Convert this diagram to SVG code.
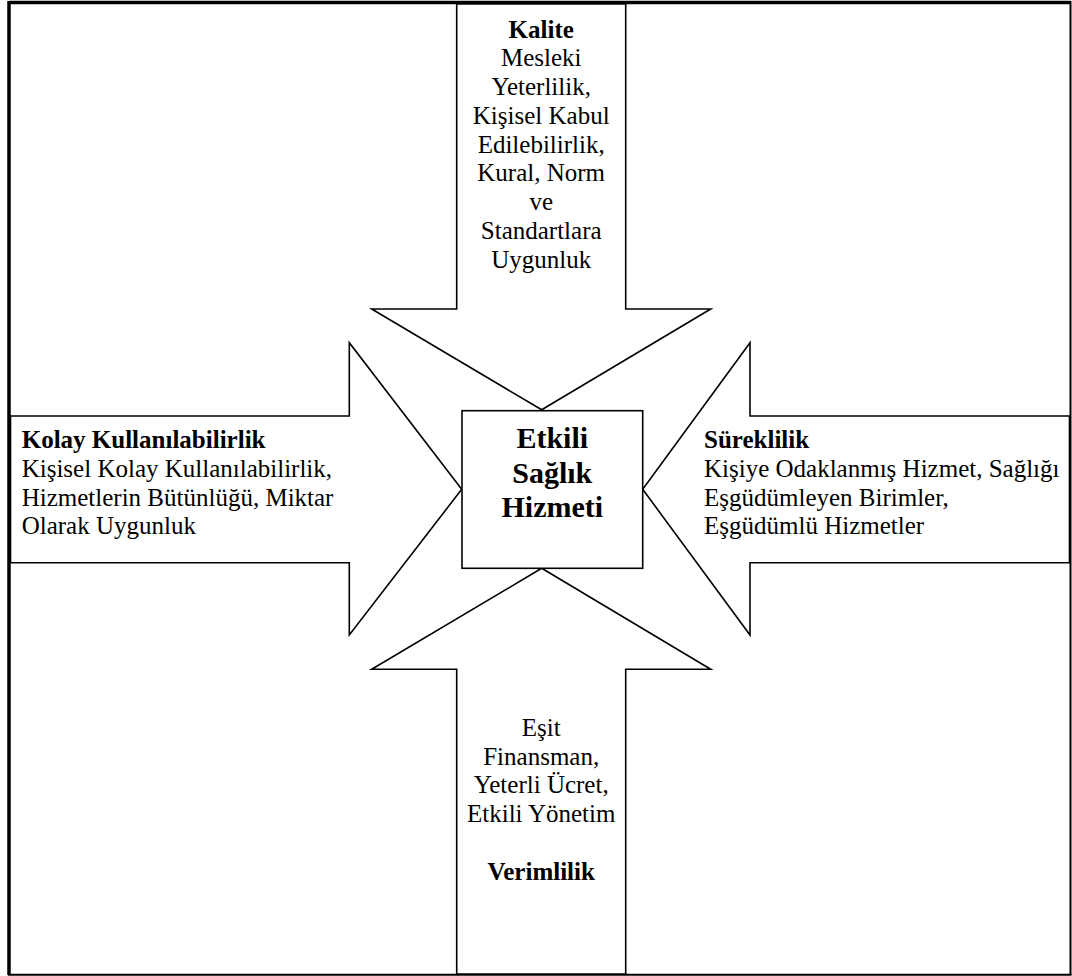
<svg xmlns="http://www.w3.org/2000/svg" width="1072" height="976" viewBox="0 0 1072 976">
<style>
.arrow{fill:#fff;stroke:#000;stroke-width:1.6;stroke-linejoin:miter}
.box{fill:#fff;stroke:#000;stroke-width:1.6}
text{font-family:"Liberation Serif","Times New Roman",serif;font-size:25px;fill:#000}
.b{font-weight:bold}
.c{text-anchor:middle}
.big{font-size:30px;font-weight:bold}
</style>
<rect width="1072" height="976" fill="#fff"/>
<g id="frame">
<line x1="9" y1="2.5" x2="1071" y2="2.5" stroke="#000" stroke-width="3.5"/>
<line x1="9" y1="1" x2="9" y2="975" stroke="#000" stroke-width="3.5"/>
<line x1="1070.5" y1="1" x2="1070.5" y2="975" stroke="#000" stroke-width="2"/>
<line x1="8" y1="974.8" x2="1071.5" y2="974.8" stroke="#000" stroke-width="2"/>
</g>
<g id="connectors">
<polygon id="arrow-top" class="arrow" points="456.7,4 625.7,4 625.7,309 710.7,309 541.7,409.8 371.7,309 456.7,309"/>
<polygon id="arrow-left" class="arrow" points="10.5,416 349.3,416 349.3,342.7 461.7,489.3 349.3,635 349.3,562.7 10.5,562.7"/>
<polygon id="arrow-right" class="arrow" points="1069.5,416 750,416 750,342.7 642.7,489.3 750,635 750,562.7 1069.5,562.7"/>
<polygon id="arrow-bottom" class="arrow" points="456.7,974 625.7,974 625.7,669.3 710.7,669.3 541.7,568.3 371.7,669.3 456.7,669.3"/>
</g>
<g id="node-kalite">
<text class="c" x="541.2" y="37.5"><tspan class="b">Kalite</tspan></text>
<text class="c" x="541.2" y="66.2">Mesleki</text>
<text class="c" x="541.2" y="95">Yeterlilik,</text>
<text class="c" x="541.2" y="123.7">Kişisel Kabul</text>
<text class="c" x="541.2" y="152.5">Edilebilirlik,</text>
<text class="c" x="541.2" y="181.2">Kural, Norm</text>
<text class="c" x="541.2" y="210">ve</text>
<text class="c" x="541.2" y="238.7">Standartlara</text>
<text class="c" x="541.2" y="267.5">Uygunluk</text>
</g>
<g id="node-kolay">
<text class="b" x="21.7" y="448.3">Kolay Kullanılabilirlik</text>
<text x="21.7" y="477">Kişisel Kolay Kullanılabilirlik,</text>
<text x="21.7" y="505.7">Hizmetlerin Bütünlüğü, Miktar</text>
<text x="21.7" y="534.4">Olarak Uygunluk</text>
</g>
<g id="node-sureklilik">
<text class="b" x="704" y="448.3">Süreklilik</text>
<text x="704" y="477">Kişiye Odaklanmış Hizmet, Sağlığı</text>
<text x="704" y="505.7">Eşgüdümleyen Birimler,</text>
<text x="704" y="534.4">Eşgüdümlü Hizmetler</text>
</g>
<g id="node-verimlilik">
<text class="c" x="541.2" y="736">Eşit</text>
<text class="c" x="541.2" y="764.7">Finansman,</text>
<text class="c" x="541.2" y="793.4">Yeterli Ücret,</text>
<text class="c" x="541.2" y="822.1">Etkili Yönetim</text>
<text class="c b" x="541.2" y="879.5">Verimlilik</text>
</g>
<g id="node-center">
<rect class="box" x="462" y="410.7" width="180.7" height="157.6"/>
<text class="c big" x="552.3" y="447.7">Etkili</text>
<text class="c big" x="552.3" y="482.7">Sağlık</text>
<text class="c big" x="552.3" y="517.3">Hizmeti</text>
</g>
</svg>
